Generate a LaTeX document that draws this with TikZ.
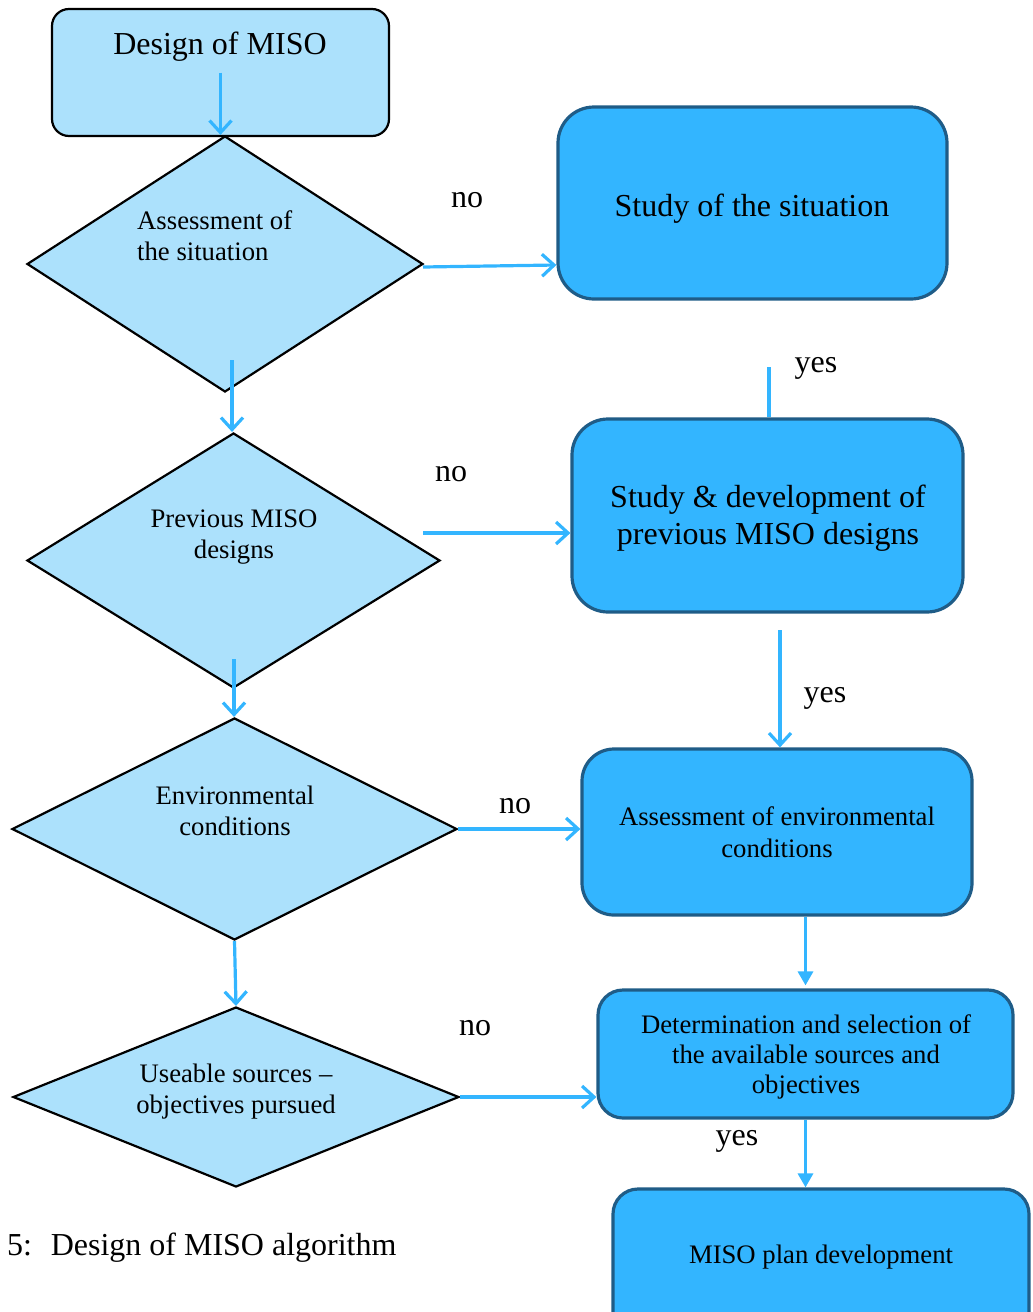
\documentclass[tikz,border=0pt]{standalone}
\usepackage{fontspec}
\setmainfont{Liberation Serif}
\usetikzlibrary{shapes.geometric,arrows.meta}
\definecolor{paleblue}{RGB}{172,225,252}
\definecolor{midblue}{RGB}{51,181,255}
\definecolor{edgeblue}{RGB}{31,92,135}
\definecolor{linkblue}{RGB}{51,181,255}

\begin{document}
\begin{tikzpicture}[x=1pt,y=-1pt,
  startbox/.style={draw=black, fill=paleblue, line width=2.2pt, rounded corners=17pt, inner sep=0pt},
  decision/.style={diamond, draw=black, fill=paleblue, line width=2.2pt, inner sep=0pt},
  taskbox/.style={draw=edgeblue, fill=midblue, line width=3.2pt, inner sep=0pt},
  big/.style={font=\fontsize{32}{37}\selectfont, inner sep=0pt},
  small/.style={font=\fontsize{26.7}{31}\selectfont, inner sep=0pt},
  link/.style={draw=linkblue, line width=3.2pt},
  flow/.style={link, -{Straight Barb[length=12pt,width=22pt]}},
  flowfill/.style={link, -{Triangle[length=14pt,width=15pt]}},
]
\useasboundingbox (0,0) rectangle (1033,1312);
\clip (0,0) rectangle (1033,1312);

% left column: start box and decisions
\node[startbox, minimum width=337pt, minimum height=127pt] (t) at (220.5,72.5) {};
\node[big, anchor=base] (tt) at (220,54) {Design of MISO};

% multi-line labels are placed by the baseline of their last line
\node[decision, minimum width=396pt, minimum height=256pt] (d1) at (225,264) {};
\node[small, anchor=base west, align=left] (d1t) at (137,260) {Assessment of\\the situation};

\node[decision, minimum width=413pt, minimum height=255pt] (d2) at (233.5,560.5) {};
\node[small, anchor=base, align=center] (d2t) at (234,558) {Previous MISO\\designs};

\node[decision, minimum width=445pt, minimum height=222pt] (d3) at (234.5,829) {};
\node[small, anchor=base, align=center] (d3t) at (235,835) {Environmental\\conditions};

\node[decision, minimum width=446pt, minimum height=180pt] (d4) at (236,1097) {};
\node[small, anchor=base, align=center] (d4t) at (236,1113) {Useable sources \textendash\\objectives pursued};

% right column: actions
\node[taskbox, rounded corners=36pt, minimum width=389pt, minimum height=192pt] (bA) at (752.5,203) {};
\node[big, anchor=base] (bAt) at (752,216) {Study of the situation};

\node[taskbox, rounded corners=36pt, minimum width=391pt, minimum height=193pt] (bB) at (767.5,515.5) {};
\node[big, anchor=base, align=center] (bBt) at (768,544) {Study \& development of\\previous MISO designs};

\node[taskbox, rounded corners=32pt, minimum width=390pt, minimum height=166pt] (bC) at (777,832) {};
\node[small, anchor=base, align=center, font=\fontsize{26.7}{32}\selectfont] (bCt) at (777,857) {Assessment of environmental\\conditions};

\node[taskbox, rounded corners=25pt, minimum width=415pt, minimum height=128pt] (bD) at (805.5,1054) {};
\node[small, anchor=base, align=center, font=\fontsize{26.7}{30}\selectfont] (bDt) at (806,1093) {Determination and selection of\\the available sources and\\objectives};

\node[taskbox, rounded corners=25pt, minimum width=416pt, minimum height=151pt] (bE) at (821,1264.5) {};
\node[small, anchor=base] (bEt) at (821,1263) {MISO plan development};

% branch labels
\node[big, anchor=base] (n1) at (467,207) {no};
\node[big, anchor=base] (n2) at (451,481) {no};
\node[big, anchor=base] (n3) at (515,813) {no};
\node[big, anchor=base] (n4) at (475,1035) {no};
\node[big, anchor=base] (y1) at (816,372) {yes};
\node[big, anchor=base] (y2) at (825,702) {yes};
\node[big, anchor=base] (y3) at (737,1145) {yes};

\node[big, anchor=base west] (cap) at (7,1255) {5:~ Design of MISO algorithm};

% connector ends that sit off the shapes
\coordinate (s1) at (423,267);
\coordinate (s2) at (232,360);
\coordinate (s3) at (234,659);
\coordinate (s6) at (423,533);
\coordinate (s9) at (769,367);
\coordinate (s10) at (780,630);

% vertical flow on the left
\draw[flow] (t.center) -- (t.center |- d1.north);
\draw[flow] (s2) -- (s2 |- d2.north);
\draw[flow] (s3) -- (s3 |- d3.north);
\draw[flow] (d3.south) -- (d4.north);

% "no" branches
\draw[flow] (s1) -- ([yshift=-1pt]bA.west |- d1.east);
\draw[flow] (s6) -- (s6 -| bB.west);
\draw[flow] (d3.east) -- (d3.east -| bC.west);
\draw[flow] (d4.east) -- (d4.east -| bD.west);

% "yes" chain on the right
\draw[link] (s9) -- (s9 |- bB.north);
\draw[flow] (s10) -- (s10 |- bC.north);
\draw[flowfill] (bD.north |- bC.south) -- ([yshift=3pt]bD.north);
\draw[flowfill] (bD.south) -- (bD.south |- bE.north);
\end{tikzpicture}
\end{document}
